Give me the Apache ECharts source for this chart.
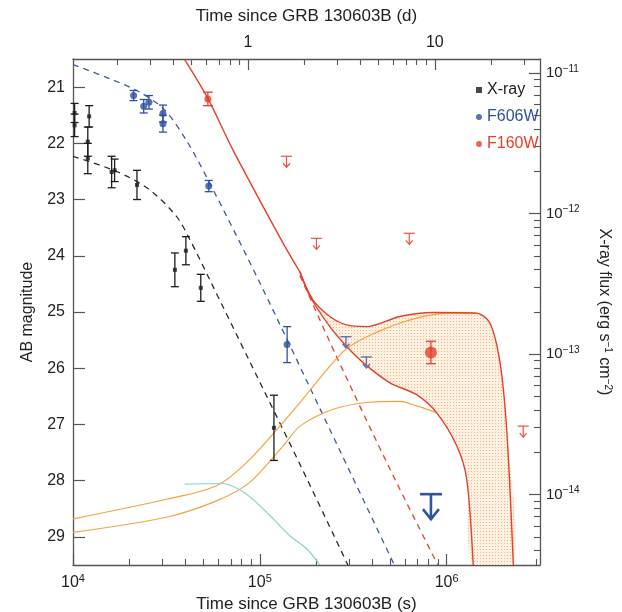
<!DOCTYPE html>
<html>
<head>
<meta charset="utf-8">
<script src="https://cdn.jsdelivr.net/npm/echarts@6/dist/echarts.min.js"></script>
<style>
html, body { margin: 0; padding: 0; background: #fff; }
#chart { width: 622px; height: 612px; }
</style>
</head>
<body>
<div id="chart"></div>
<script>
// observed points: time since burst (s), AB mag, 1 sigma
var xrayT   = [1.02e4, 1.02e4, 1.2e4, 1.2e4, 1.22e4, 1.61e4, 1.67e4, 2.2e4, 3.51e4, 4.02e4, 4.83e4, 1.19e5];
var xrayMag = [21.46, 21.68, 21.97, 22.27, 21.52, 22.51, 22.48, 22.74, 24.25, 23.91, 24.57, 27.06];
var xrayErr = [0.17, 0.2, 0.26, 0.27, 0.19, 0.28, 0.2, 0.26, 0.3, 0.25, 0.24, 0.58];

var f606T   = [2.11e4, 2.39e4, 2.55e4, 3.03e4, 3.03e4, 5.33e4, 1.4e5];
var f606Mag = [21.15, 21.34, 21.27, 21.47, 21.65, 22.76, 25.58];
var f606Err = [0.09, 0.12, 0.12, 0.15, 0.15, 0.1, 0.32];

var f160T   = [5.27e4, 8.24e5];
var f160Mag = [21.21, 25.72];
var f160Err = [0.12, 0.2];

// upper limits
var limRedT   = [1.39e5, 2.01e5, 6.31e5, 2.57e6];
var limRedMag = [22.23, 23.69, 23.6, 27.03];
var limBlueT   = [2.89e5, 3.72e5];
var limBlueMag = [25.44, 25.8];
var limBigT   = [8.24e5];
var limBigMag = [28.24];

// model curves [t (s), mag]
var xrayModel = [[1e4, 22.23], [1.74e4, 22.51], [2.58e4, 22.83], [3.58e4, 23.3], [4.22e4, 23.71],
  [5.4e4, 24.43], [8.83e4, 25.88], [1.64e5, 27.71], [2.96e5, 29.5]];
var f606Model = [[1e4, 20.6], [1.57e4, 20.85], [2.28e4, 21.09], [3.1e4, 21.41], [4.05e4, 21.95],
  [5.4e4, 22.71], [1e5, 24.48], [2.37e5, 27.09], [5.25e5, 29.5]];
var f160Early = [[3.96e4, 20.51], [5.27e4, 21.2], [7.19e4, 22.12], [1.334e5, 23.78], [1.64e5, 24.29]];
var f160Afterglow = [[1.64e5, 24.35], [2.58e5, 25.8], [5.0e5, 27.81], [8.97e5, 29.5]];
var f160UpperBranch = [[1.64e5, 24.29], [1.92e5, 24.78], [2.37e5, 25.08], [2.91e5, 25.23], [3.72e5, 25.26],
  [5.62e5, 25.08], [8.45e5, 25.01], [1.448e6, 25.02], [1.707e6, 25.2], [1.93e6, 25.9], [2.096e6, 27.09], [2.275e6, 29.5]];
var f160LowerBranch = [[1.64e5, 24.29], [1.854e5, 24.72], [2.37e5, 25.26], [2.91e5, 25.61], [3.57e5, 25.9],
  [4.97e5, 26.26], [6.9e5, 26.47], [8.83e5, 26.79], [1.132e6, 27.38], [1.28e6, 27.97], [1.387e6, 29.5]];
var knUpper = [[1e4, 28.68], [3.16e4, 28.33], [5.86e4, 28.09], [8.83e4, 27.62], [1.64e5, 26.61],
  [2.46e5, 25.9], [3.03e5, 25.61], [4.56e5, 25.31], [6.9e5, 25.11], [1.04e6, 25.02], [1.448e6, 25.02]];
var knLower = [[1e4, 28.92], [3.16e4, 28.65], [5.86e4, 28.36], [8.83e4, 28.03], [1.334e5, 27.38],
  [1.64e5, 27.03], [2.47e5, 26.73], [3.72e5, 26.61], [5.62e5, 26.59], [6.9e5, 26.67], [8.83e5, 26.79]];
var cyanModel = [[3.96e4, 28.06], [6.35e4, 28.05], [7.97e4, 28.18], [9.6e4, 28.39], [1.18e5, 28.68],
  [1.448e5, 28.98], [1.78e5, 29.21], [2.1e5, 29.5]];

// axes
var tMin = 1e4, tMax = 3.16e6, DAY = 86400;
var magTop = 20.5, magBottom = 29.5;
var fluxTop = 1.26e-11, fluxBottom = 3.16e-15;
var timeTicks = [1e4, 1e5, 1e6];
var timeMinor = [2e4, 3e4, 4e4, 5e4, 6e4, 7e4, 8e4, 9e4, 2e5, 3e5, 4e5, 5e5, 6e5, 7e5, 8e5, 9e5, 2e6, 3e6];
var dayTicks = [1, 10];
var dayMinor = [0.2, 0.3, 0.4, 0.5, 0.6, 0.7, 0.8, 0.9, 2, 3, 4, 5, 6, 7, 8, 9, 20, 30];
var magTicks = [21, 22, 23, 24, 25, 26, 27, 28, 29];
var fluxTicks = [1e-14, 1e-13, 1e-12, 1e-11];
var fluxMinor = [4e-15, 5e-15, 6e-15, 7e-15, 8e-15, 9e-15,
  2e-14, 3e-14, 4e-14, 5e-14, 6e-14, 7e-14, 8e-14, 9e-14,
  2e-13, 3e-13, 4e-13, 5e-13, 6e-13, 7e-13, 8e-13, 9e-13,
  2e-12, 3e-12, 4e-12, 5e-12, 6e-12, 7e-12, 8e-12, 9e-12];

var FONT = '"Liberation Sans", Arial, Helvetica, sans-serif';
var AXIS = '#555';
var BLACK = '#1c1c1c', BLUE = '#30519f', RED = '#e5402b', ORANGE = '#f5a340', CYAN = '#86d3cb';

function pairs(xs, ys) {
  return xs.map(function (x, i) { return [x, ys[i]]; });
}
function bars(xs, ys, es) {
  return xs.map(function (x, i) { return [x, ys[i] - es[i], ys[i] + es[i]]; });
}

function errorBar(color, cap) {
  return function (params, api) {
    var a = api.coord([api.value(0), api.value(1)]);
    var b = api.coord([api.value(0), api.value(2)]);
    var st = { stroke: color, lineWidth: 1.3 };
    return { type: 'group', children: [
      { type: 'line', shape: { x1: a[0], y1: a[1], x2: b[0], y2: b[1] }, style: st },
      { type: 'line', shape: { x1: a[0] - cap, y1: a[1], x2: a[0] + cap, y2: a[1] }, style: st },
      { type: 'line', shape: { x1: b[0] - cap, y1: b[1], x2: b[0] + cap, y2: b[1] }, style: st }
    ] };
  };
}

function upperLimit(color, w, h, hw, hh, lw) {
  return function (params, api) {
    var p = api.coord([api.value(0), api.value(1)]);
    var st = { stroke: color, lineWidth: lw, fill: null };
    return { type: 'group', children: [
      { type: 'line', shape: { x1: p[0] - w / 2, y1: p[1], x2: p[0] + w / 2, y2: p[1] }, style: st },
      { type: 'line', shape: { x1: p[0], y1: p[1], x2: p[0], y2: p[1] + h }, style: st },
      { type: 'polyline', shape: { points: [[p[0] - hw, p[1] + h - hh], [p[0], p[1] + h], [p[0] + hw, p[1] + h - hh]] }, style: st }
    ] };
  };
}

// dotted texture for the shaded kilonova range
var pat = document.createElement('canvas');
pat.width = 3; pat.height = 3;
var pctx = pat.getContext('2d');
pctx.fillStyle = '#fdf1e3';
pctx.fillRect(0, 0, 3, 3);
pctx.fillStyle = '#f3b57a';
pctx.fillRect(0, 0, 1, 1);

function region(params, api) {
  var pts = [];
  f160UpperBranch.forEach(function (d) { pts.push(api.coord(d)); });
  f160LowerBranch.slice().reverse().forEach(function (d) { pts.push(api.coord(d)); });
  return { type: 'polygon', shape: { points: pts, smooth: 0.3 },
    style: { fill: { image: pat, repeat: 'repeat' }, stroke: null } };
}

function supLabel(base, minus) {
  return function (v) {
    var e = Math.round(Math.abs(Math.log10(v)));
    return '{b|' + base + '}{s|' + (minus ? '\u2212' : '') + e + '}';
  };
}
var labelRich = {
  b: { fontSize: 16, fontFamily: FONT, color: '#222' },
  s: { fontSize: 11, fontFamily: FONT, color: '#222', padding: [0, 0, 9, 0] }
};

function minorAxis(pos, min, max, ticks, type) {
  return {
    type: type || 'log', position: pos, min: min, max: max,
    axisLine: { show: false },
    axisTick: { inside: true, length: 6, customValues: ticks, lineStyle: { color: AXIS, width: 1.1 } },
    axisLabel: { show: false }, splitLine: { show: false }
  };
}

function line(data, color, dashed, width) {
  return {
    type: 'line', data: data, symbol: 'none', smooth: 0.3, silent: true,
    lineStyle: { color: color, width: width || 1.3, type: dashed ? [6, 5] : 'solid' },
    z: dashed ? 3 : 4
  };
}

var chart = echarts.init(document.getElementById('chart'));
chart.setOption({
  animation: false,
  backgroundColor: '#fff',
  textStyle: { fontFamily: FONT },
  grid: { left: 73, right: 82, top: 59, bottom: 47, containLabel: false, outerBoundsMode: 'none' },
  legend: {
    orient: 'vertical', left: 471, top: 77, itemWidth: 6, itemHeight: 6, itemGap: 11,
    selectedMode: false, textStyle: { fontSize: 16, fontFamily: FONT },
    data: [
      { name: 'X-ray', icon: 'rect', textStyle: { color: BLACK } },
      { name: 'F606W', icon: 'circle', textStyle: { color: BLUE } },
      { name: 'F160W', icon: 'circle', textStyle: { color: RED } }
    ]
  },
  xAxis: [
    {
      type: 'log', position: 'bottom', min: tMin, max: tMax,
      axisLine: { lineStyle: { color: AXIS, width: 1.3 } },
      axisTick: { inside: true, length: 11, customValues: timeTicks, lineStyle: { color: AXIS, width: 1.2 } },
      axisLabel: { customValues: timeTicks, formatter: supLabel('10', false), rich: labelRich, margin: 8 },
      splitLine: { show: false },
      name: 'Time since GRB 130603B (s)', nameLocation: 'middle', nameGap: 27,
      nameTextStyle: { fontSize: 17, color: '#222', fontFamily: FONT }
    },
    minorAxis('bottom', tMin, tMax, timeMinor),
    {
      type: 'log', position: 'top', min: tMin / DAY, max: tMax / DAY,
      axisLine: { lineStyle: { color: AXIS, width: 1.3 } },
      axisTick: { inside: true, length: 11, customValues: dayTicks, lineStyle: { color: AXIS, width: 1.2 } },
      axisLabel: { customValues: dayTicks, fontSize: 16, color: '#222', margin: 8 },
      splitLine: { show: false },
      name: 'Time since GRB 130603B (d)', nameLocation: 'middle', nameGap: 34,
      nameTextStyle: { fontSize: 17, color: '#222', fontFamily: FONT }
    },
    minorAxis('top', tMin / DAY, tMax / DAY, dayMinor)
  ],
  yAxis: [
    {
      type: 'value', position: 'left', inverse: true, min: magTop, max: magBottom,
      axisLine: { lineStyle: { color: AXIS, width: 1.3 } },
      axisTick: { inside: true, length: 12, customValues: magTicks, lineStyle: { color: AXIS, width: 1.2 } },
      axisLabel: { customValues: magTicks, fontSize: 16, color: '#222', margin: 8 },
      splitLine: { show: false },
      name: 'AB magnitude', nameLocation: 'middle', nameGap: 37,
      nameTextStyle: { fontSize: 16, color: '#222', fontFamily: FONT }
    },
    {
      type: 'log', position: 'right', min: fluxBottom, max: fluxTop,
      axisLine: { lineStyle: { color: AXIS, width: 1.3 } },
      axisTick: { inside: true, length: 11, customValues: fluxTicks, lineStyle: { color: AXIS, width: 1.2 } },
      axisLabel: {
        customValues: fluxTicks, formatter: supLabel('10', true), margin: 6,
        rich: {
          b: { fontSize: 15, fontFamily: FONT, color: '#222' },
          s: { fontSize: 10, fontFamily: FONT, color: '#222', padding: [0, 0, 8, 0] }
        }
      },
      splitLine: { show: false },
      name: '{t|X-ray flux (erg s}{s|\u22121}{t| cm}{s|\u22122}{t|)}',
      nameLocation: 'middle', nameGap: 55, nameRotate: -90,
      nameTextStyle: {
        rich: {
          t: { fontSize: 16, fontFamily: FONT, color: '#222' },
          s: { fontSize: 10, fontFamily: FONT, color: '#222', padding: [0, 0, 8, 0] }
        }
      }
    },
    minorAxis('right', fluxBottom, fluxTop, fluxMinor)
  ],
  series: [
    { type: 'custom', name: 'range', renderItem: region, data: [f160UpperBranch[0]],
      encode: { x: 0, y: 1 }, z: 1, silent: true, clip: true },
    line(knUpper, ORANGE, false, 1.2),
    line(knLower, ORANGE, false, 1.2),
    line(cyanModel, CYAN, false, 1.2),
    line(f160Early, RED, false, 1.4),
    line(f160UpperBranch, RED, false, 1.4),
    line(f160LowerBranch, RED, false, 1.4),
    line(f160Afterglow, RED, true, 1.3),
    line(f606Model, '#3d5aa3', true, 1.3),
    line(xrayModel, '#2a2a2a', true, 1.3),
    { type: 'custom', name: 'xerr', renderItem: errorBar(BLACK, 4), data: bars(xrayT, xrayMag, xrayErr),
      encode: { x: 0, y: [1, 2] }, z: 6, silent: true },
    { type: 'custom', name: 'berr', renderItem: errorBar(BLUE, 4), data: bars(f606T, f606Mag, f606Err),
      encode: { x: 0, y: [1, 2] }, z: 6, silent: true },
    { type: 'custom', name: 'rerr', renderItem: errorBar(RED, 5), data: bars(f160T, f160Mag, f160Err),
      encode: { x: 0, y: [1, 2] }, z: 6, silent: true },
    { type: 'scatter', name: 'X-ray', data: pairs(xrayT, xrayMag), symbol: 'rect', symbolSize: 4,
      itemStyle: { color: BLACK }, z: 7 },
    { type: 'scatter', name: 'F606W', data: pairs(f606T, f606Mag), symbol: 'circle', symbolSize: 7,
      itemStyle: { color: BLUE }, z: 7 },
    { type: 'scatter', name: 'F160W', data: pairs(f160T, f160Mag), symbol: 'circle',
      symbolSize: function (v, p) { return p.dataIndex === 1 ? 12 : 7; },
      itemStyle: { color: RED }, z: 7 },
    { type: 'custom', name: 'limRed', renderItem: upperLimit('#e8553f', 11, 11, 3.5, 4, 1.2),
      data: pairs(limRedT, limRedMag), encode: { x: 0, y: 1 }, z: 6, silent: true },
    { type: 'custom', name: 'limBlue', renderItem: upperLimit('#5a72ad', 11, 11, 3.5, 4, 1.4),
      data: pairs(limBlueT, limBlueMag), encode: { x: 0, y: 1 }, z: 6, silent: true },
    { type: 'custom', name: 'limBig', renderItem: upperLimit('#2f559f', 22, 25, 8, 10, 2.6),
      data: pairs(limBigT, limBigMag), encode: { x: 0, y: 1 }, z: 6, silent: true }
  ]
});
</script>
</body>
</html>
